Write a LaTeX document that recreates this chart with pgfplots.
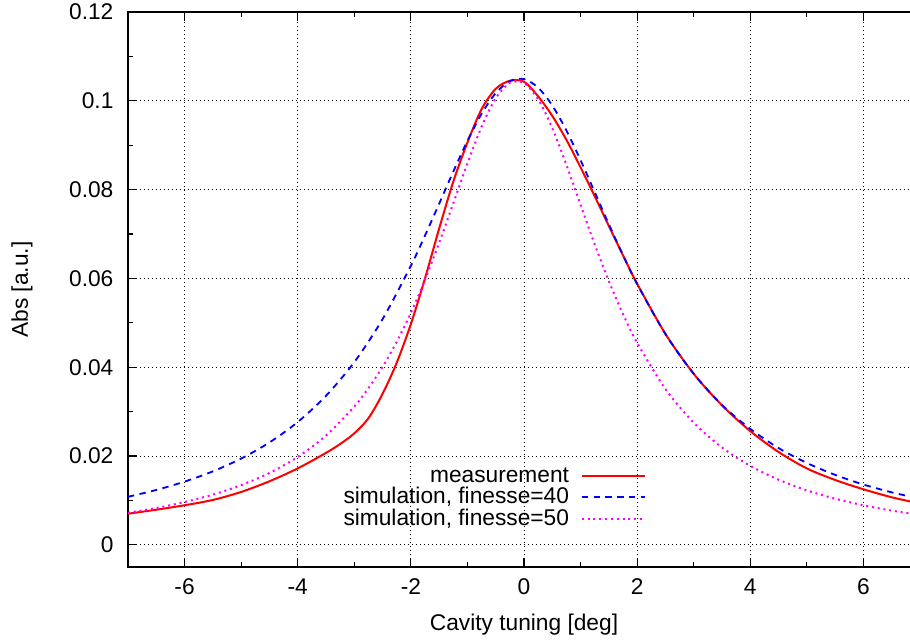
\documentclass[border=0pt]{standalone}
\usepackage{fontspec}
\setmainfont{Liberation Sans}
\usepackage{pgfplots}
\pgfplotsset{compat=1.18}
\definecolor{mag}{rgb}{1,0,1}
\definecolor{pblue}{rgb}{0,0,1}
\definecolor{pred}{rgb}{1,0,0}
\begin{document}
\begin{tikzpicture}[font=\fontsize{12.5pt}{15pt}\selectfont]
\useasboundingbox (-70.4pt,-40.7pt) rectangle (430.1pt,311.85pt);
\clip (-70.4pt,-40.7pt) rectangle (430.1pt,311.85pt);
\begin{axis}[
  scale only axis, width=435.6pt, height=305.25pt,
  xmin=-7, xmax=7, ymin=-0.005, ymax=0.12,
  xtick={-6,-4,-2,0,2,4,6},
  ytick={0,0.02,0.04,0.06,0.08,0.1,0.12},
  minor x tick num=1, minor y tick num=1,
  scaled y ticks=false,
  /pgf/number format/assume math mode=true,
  yticklabel style={/pgf/number format/fixed, /pgf/number format/precision=2, xshift=-4.5pt},
  xticklabel style={yshift=-3pt},
  tick align=inside,
  major tick length=5pt, minor tick length=2.5pt,
  tick style={black, line width=0.6pt},
  axis line style={black, line width=0.8pt},
  grid=major,
  major grid style={black, line width=0.5pt, dash pattern=on 0.55pt off 1.65pt},
  xlabel={Cavity tuning [deg]}, ylabel={Abs [a.u.]},
  xlabel style={at={(axis description cs:0.5,-0.1153)}, anchor=base},
  ylabel style={at={(axis description cs:-0.1338,0.5)}, anchor=center},
  legend style={draw=none, fill=none, at={(axis description cs:0.662,0.056)}, anchor=south east, row sep=-2.6pt,
    /tikz/every odd column/.append style={column sep=4.5pt}},
  legend cell align=right,
  legend plot pos=right,
  legend image code/.code={\draw[#1] (0pt,0pt) -- (35pt,0pt);},
]
\addplot[pred, line width=1.1pt, smooth] table {
-7.00 0.0070
-6.50 0.0079
-6.00 0.0089
-5.50 0.0101
-5.00 0.0119
-4.50 0.0143
-4.00 0.0172
-3.50 0.0207
-3.25 0.0227
-3.00 0.0251
-2.75 0.0285
-2.50 0.0340
-2.25 0.0410
-2.00 0.0497
-1.75 0.0600
-1.50 0.0712
-1.25 0.0818
-1.00 0.0906
-0.75 0.0981
-0.50 0.1027
-0.25 0.1045
0.00 0.1043
0.25 0.1010
0.50 0.0966
0.75 0.0912
1.00 0.0850
1.25 0.0785
1.50 0.0718
1.75 0.0652
2.00 0.0588
2.50 0.0475
3.00 0.0385
3.50 0.0314
4.00 0.0256
4.50 0.0209
5.00 0.0172
5.50 0.0146
6.00 0.0125
6.50 0.0107
7.00 0.0093
};
\addlegendentry{measurement}
\addplot[pblue, line width=1pt, dash pattern=on 3.5pt off 3pt, smooth] table {
-7.00 0.01081
-6.50 0.01235
-6.00 0.01423
-5.50 0.01654
-5.00 0.01942
-4.50 0.02305
-4.00 0.02765
-3.50 0.03356
-3.00 0.04114
-2.50 0.05082
-2.00 0.06284
-1.75 0.06965
-1.50 0.07681
-1.25 0.08405
-1.00 0.09098
-0.75 0.09707
-0.50 0.10173
-0.25 0.10445
0.00 0.10488
0.25 0.10296
0.50 0.09894
0.75 0.09330
1.00 0.08661
1.25 0.07943
1.50 0.07219
1.75 0.06523
2.00 0.05874
2.50 0.04748
3.00 0.03851
3.50 0.03150
4.00 0.02610
4.50 0.02179
5.00 0.01843
5.50 0.01575
6.00 0.01357
6.50 0.01182
7.00 0.01037
};
\addlegendentry{simulation, finesse=40}
\addplot[mag, line width=1.1pt, dash pattern=on 1.1pt off 2.1pt, smooth] table {
-7.00 0.00721
-6.50 0.00829
-6.00 0.00963
-5.50 0.01130
-5.00 0.01343
-4.50 0.01617
-4.00 0.01978
-3.50 0.02460
-3.00 0.03114
-2.75 0.03527
-2.50 0.04010
-2.25 0.04573
-2.00 0.05225
-1.75 0.05970
-1.50 0.06800
-1.25 0.07691
-1.00 0.08591
-0.75 0.09415
-0.50 0.10056
-0.25 0.10407
0.00 0.10400
0.25 0.10036
0.50 0.09385
0.75 0.08555
1.00 0.07655
1.25 0.06766
1.50 0.05938
1.75 0.05197
2.00 0.04549
2.50 0.03509
3.00 0.02749
3.50 0.02192
4.00 0.01778
4.50 0.01466
5.00 0.01226
5.50 0.01038
6.00 0.00890
6.50 0.00770
7.00 0.00673
};
\addlegendentry{simulation, finesse=50}
\end{axis}
\end{tikzpicture}
\end{document}
